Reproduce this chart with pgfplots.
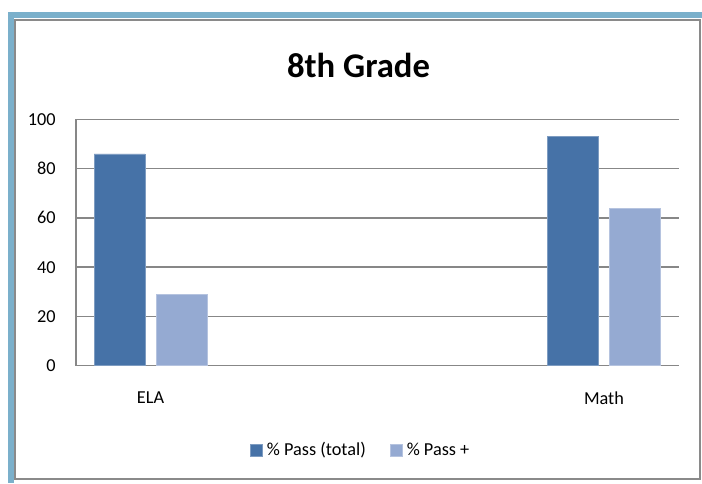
\documentclass[border=0pt]{standalone}
\usepackage{fontspec}
\setmainfont{Carlito}
\usepackage{pgfplots}
\pgfplotsset{compat=1.18}

\definecolor{frameblue}{HTML}{7BB0CB}
\definecolor{framegray}{HTML}{8A8A8A}
\definecolor{gridgray}{HTML}{878787}
\definecolor{passtotal}{HTML}{4672A7}
\definecolor{passplus}{HTML}{95AAD2}

\begin{document}
\begin{tikzpicture}
  \useasboundingbox (0,0) rectangle (526.5pt,362.25pt);
  % frame
  \fill[frameblue] (6pt,348.75pt) rectangle (526.5pt,353.25pt);
  \fill[frameblue] (6pt,0pt) rectangle (10.5pt,353.25pt);
  \draw[framegray, line width=1.1pt] (11.25pt,3pt) rectangle (525pt,347.25pt);
  % title
  \node[anchor=base, font=\fontsize{26}{30}\selectfont\bfseries] at (268.9pt,303.75pt) {8th Grade};

  \begin{axis}[
      at={(57pt,87.98pt)}, anchor=south west,
      scale only axis,
      width=452.25pt, height=184.8pt,
      ybar,
      bar width=38pt,
      xmin=-0.1643, xmax=1.1654,
      ymin=0, ymax=100,
      xtick={0,1}, xticklabels={ELA,Math},
      ytick={0,20,...,100},
      major tick length=0pt,
      axis x line*=bottom, axis y line*=left,
      axis line style={gridgray, line width=1.1pt},
      ymajorgrids,
      grid style={gridgray, line width=1.1pt},
      /pgf/number format/assume math mode=true,
      tick label style={font=\fontsize{13.7}{16}\selectfont, text=black},
      yticklabel style={anchor=east, inner sep=0pt, xshift=-15pt},
      xticklabel style={anchor=north, inner sep=0pt, yshift=-19.5pt},
      legend style={draw=none, at={(0.4726,-0.342)}, anchor=center,
        legend columns=2, font=\fontsize{13.7}{16}\selectfont,
        /tikz/every odd column/.append style={column sep=1.5pt},
        /tikz/every even column/.append style={column sep=16pt}},
      legend image code/.code={\fill[#1] (0pt,-4.4pt) rectangle (8.8pt,4.4pt);},
    ]
    \addplot[fill=passtotal, draw=passtotal!70!white, line width=0.4pt, bar shift=-23.3pt]
      coordinates {(0,86) (1,93)};
    \addplot[fill=passplus, draw=passplus!70!white, line width=0.4pt, bar shift=23.3pt]
      coordinates {(0,29) (1,64)};
    \legend{\% Pass (total), \% Pass +}
  \end{axis}
\end{tikzpicture}
\end{document}
